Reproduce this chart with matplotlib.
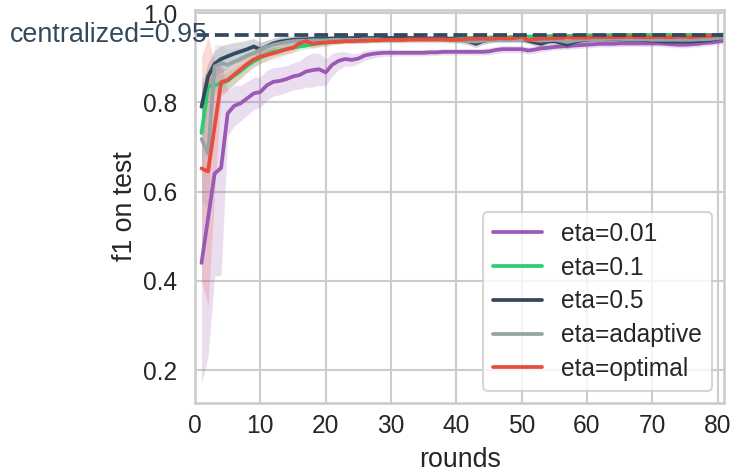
import matplotlib
matplotlib.use('Agg')
import matplotlib.pyplot as plt
import numpy as np
import seaborn as sns

sns.set_theme(context='talk', style='whitegrid', font_scale=1.07)
plt.rcParams['font.family'] = ['Liberation Sans', 'DejaVu Sans']
plt.rcParams['lines.linewidth'] = 2.7

rounds = np.arange(1, 82)
labels = ['eta=0.01', 'eta=0.1', 'eta=0.5', 'eta=adaptive', 'eta=optimal']
colors = ['#9b59b6', '#2ecc71', '#34495e', '#95a5a6', '#e74c3c']
centralized = 0.95

f1_001 = [0.440, 0.540, 0.640, 0.653, 0.775, 0.792, 0.798, 0.809, 0.820, 0.823,
          0.838, 0.846, 0.848, 0.852, 0.858, 0.861, 0.869, 0.872, 0.874, 0.867,
          0.884, 0.893, 0.897, 0.895, 0.898, 0.905, 0.908, 0.910, 0.911, 0.911,
          0.911, 0.911, 0.911, 0.911, 0.911, 0.912, 0.912, 0.913, 0.913, 0.913,
          0.913, 0.913, 0.913, 0.913, 0.914, 0.917, 0.919, 0.919, 0.919, 0.919,
          0.916, 0.918, 0.921, 0.922, 0.924, 0.925, 0.926, 0.927, 0.928, 0.929,
          0.930, 0.931, 0.931, 0.931, 0.932, 0.932, 0.932, 0.932, 0.932, 0.932,
          0.932, 0.931, 0.930, 0.929, 0.929, 0.930, 0.931, 0.933, 0.934, 0.936,
          0.938]
f1_01 = [0.731, 0.835, 0.838, 0.842, 0.848, 0.860, 0.870, 0.882, 0.892, 0.900,
         0.907, 0.913, 0.916, 0.919, 0.923, 0.925, 0.927, 0.930, 0.932, 0.934,
         0.935, 0.936, 0.937, 0.937, 0.938, 0.938, 0.939, 0.939, 0.940, 0.940,
         0.940, 0.941, 0.941, 0.942, 0.942, 0.942, 0.943, 0.943, 0.943, 0.944,
         0.944, 0.944, 0.945, 0.945, 0.945, 0.946, 0.946, 0.946, 0.947, 0.947,
         0.947, 0.948, 0.948, 0.948, 0.949, 0.949, 0.949, 0.949, 0.950, 0.950,
         0.950, 0.950, 0.950, 0.951, 0.951, 0.951, 0.951, 0.951, 0.951, 0.951,
         0.951, 0.951, 0.951, 0.951, 0.951, 0.951, 0.951, 0.951, 0.951, 0.951,
         0.952]
f1_05 = [0.790, 0.858, 0.886, 0.897, 0.903, 0.909, 0.914, 0.919, 0.925, 0.918,
         0.925, 0.932, 0.936, 0.938, 0.940, 0.941, 0.941, 0.942, 0.942, 0.942,
         0.943, 0.943, 0.943, 0.944, 0.944, 0.944, 0.944, 0.944, 0.944, 0.944,
         0.944, 0.944, 0.944, 0.944, 0.943, 0.943, 0.943, 0.943, 0.942, 0.941,
         0.940, 0.936, 0.931, 0.937, 0.940, 0.941, 0.941, 0.941, 0.941, 0.941,
         0.938, 0.934, 0.931, 0.936, 0.937, 0.933, 0.929, 0.935, 0.938, 0.940,
         0.941, 0.941, 0.941, 0.941, 0.941, 0.940, 0.940, 0.940, 0.939, 0.938,
         0.937, 0.936, 0.936, 0.936, 0.936, 0.936, 0.937, 0.938, 0.940, 0.943,
         0.945]
f1_adaptive = [0.718, 0.685, 0.880, 0.888, 0.884, 0.891, 0.897, 0.905, 0.910, 0.918,
               0.924, 0.929, 0.932, 0.935, 0.937, 0.938, 0.938, 0.939, 0.939, 0.939,
               0.940, 0.940, 0.940, 0.940, 0.940, 0.941, 0.941, 0.941, 0.940, 0.940,
               0.940, 0.940, 0.940, 0.940, 0.940, 0.940, 0.940, 0.940, 0.939, 0.939,
               0.938, 0.937, 0.936, 0.938, 0.939, 0.940, 0.940, 0.940, 0.941, 0.941,
               0.940, 0.939, 0.938, 0.939, 0.940, 0.938, 0.935, 0.938, 0.940, 0.941,
               0.941, 0.941, 0.942, 0.942, 0.942, 0.941, 0.941, 0.941, 0.941, 0.940,
               0.940, 0.940, 0.940, 0.940, 0.940, 0.940, 0.941, 0.941, 0.942, 0.944,
               0.945]
f1_optimal = [0.652, 0.645, 0.745, 0.845, 0.850, 0.862, 0.874, 0.886, 0.896, 0.902,
              0.906, 0.910, 0.914, 0.919, 0.922, 0.932, 0.937, 0.931, 0.933, 0.934,
              0.935, 0.936, 0.937, 0.937, 0.938, 0.938, 0.939, 0.939, 0.940, 0.940,
              0.940, 0.940, 0.941, 0.941, 0.941, 0.941, 0.941, 0.941, 0.940, 0.940,
              0.941, 0.942, 0.942, 0.943, 0.942, 0.943, 0.944, 0.943, 0.944, 0.947,
              0.939, 0.941, 0.943, 0.943, 0.944, 0.944, 0.945, 0.945, 0.945, 0.945,
              0.946, 0.946, 0.946, 0.946, 0.946, 0.947, 0.947, 0.946, 0.946, 0.946,
              0.947, 0.946, 0.946, 0.947, 0.947, 0.946, 0.947, 0.948, 0.949, 0.950,
              0.950]

# half widths of the shaded bands
ci_001 = [0.270, 0.310, 0.230, 0.240, 0.050, 0.045, 0.040, 0.038, 0.036, 0.034,
          0.033, 0.032, 0.031, 0.030, 0.030, 0.032, 0.035, 0.038, 0.036, 0.030,
          0.025, 0.020, 0.016, 0.014, 0.012, 0.011, 0.010, 0.009, 0.008, 0.008,
          0.007, 0.007, 0.007, 0.007, 0.007, 0.007, 0.007, 0.007, 0.007, 0.007,
          0.007, 0.007, 0.007, 0.007, 0.008, 0.008, 0.008, 0.008, 0.008, 0.008,
          0.008, 0.008, 0.008, 0.007, 0.007, 0.007, 0.007, 0.007, 0.007, 0.007,
          0.007, 0.007, 0.007, 0.007, 0.007, 0.007, 0.007, 0.007, 0.007, 0.007,
          0.007, 0.007, 0.007, 0.007, 0.007, 0.007, 0.007, 0.007, 0.007, 0.007,
          0.007]
ci_01 = [0.080, 0.030, 0.020, 0.020, 0.020, 0.018, 0.016, 0.015, 0.014, 0.013,
         0.012, 0.011, 0.010, 0.010, 0.009, 0.009, 0.008, 0.008, 0.007, 0.007,
         0.005, 0.005, 0.005, 0.005, 0.005, 0.005, 0.005, 0.005, 0.005, 0.005,
         0.005, 0.005, 0.005, 0.005, 0.005, 0.005, 0.005, 0.005, 0.005, 0.005,
         0.005, 0.005, 0.005, 0.005, 0.005, 0.005, 0.005, 0.005, 0.005, 0.005,
         0.005, 0.005, 0.005, 0.005, 0.005, 0.005, 0.005, 0.005, 0.005, 0.005,
         0.005, 0.005, 0.005, 0.005, 0.005, 0.005, 0.005, 0.005, 0.005, 0.005,
         0.005, 0.005, 0.005, 0.005, 0.005, 0.005, 0.005, 0.005, 0.005, 0.005,
         0.005]
ci_05 = [0.050, 0.030, 0.030, 0.030, 0.028, 0.025, 0.022, 0.020, 0.018, 0.016,
         0.014, 0.012, 0.011, 0.010, 0.009, 0.009, 0.008, 0.008, 0.007, 0.007,
         0.006, 0.006, 0.006, 0.006, 0.006, 0.006, 0.006, 0.006, 0.006, 0.006,
         0.006, 0.006, 0.006, 0.006, 0.006, 0.006, 0.006, 0.006, 0.006, 0.006,
         0.007, 0.008, 0.009, 0.008, 0.007, 0.006, 0.006, 0.006, 0.006, 0.006,
         0.007, 0.008, 0.009, 0.008, 0.008, 0.008, 0.009, 0.008, 0.007, 0.006,
         0.006, 0.006, 0.006, 0.006, 0.006, 0.006, 0.006, 0.006, 0.006, 0.006,
         0.006, 0.006, 0.006, 0.006, 0.006, 0.006, 0.006, 0.006, 0.006, 0.006,
         0.006]
ci_adaptive = [0.140, 0.120, 0.050, 0.040, 0.035, 0.030, 0.025, 0.020, 0.018, 0.016,
               0.015, 0.013, 0.012, 0.011, 0.010, 0.010, 0.009, 0.009, 0.008, 0.008,
               0.007, 0.007, 0.007, 0.007, 0.007, 0.007, 0.007, 0.007, 0.007, 0.007,
               0.007, 0.007, 0.007, 0.007, 0.007, 0.007, 0.007, 0.007, 0.007, 0.007,
               0.008, 0.009, 0.009, 0.008, 0.007, 0.007, 0.007, 0.007, 0.007, 0.007,
               0.007, 0.008, 0.008, 0.008, 0.008, 0.009, 0.010, 0.008, 0.007, 0.007,
               0.007, 0.007, 0.007, 0.007, 0.007, 0.007, 0.007, 0.007, 0.007, 0.007,
               0.007, 0.007, 0.007, 0.007, 0.007, 0.007, 0.007, 0.007, 0.007, 0.007,
               0.007]
ci_optimal = [0.250, 0.300, 0.150, 0.030, 0.025, 0.022, 0.020, 0.018, 0.016, 0.015,
              0.014, 0.013, 0.012, 0.012, 0.011, 0.010, 0.010, 0.010, 0.009, 0.009,
              0.006, 0.006, 0.006, 0.006, 0.006, 0.006, 0.006, 0.006, 0.006, 0.006,
              0.006, 0.006, 0.006, 0.006, 0.006, 0.006, 0.006, 0.006, 0.006, 0.006,
              0.006, 0.006, 0.006, 0.006, 0.006, 0.006, 0.006, 0.006, 0.006, 0.006,
              0.006, 0.006, 0.006, 0.006, 0.006, 0.006, 0.006, 0.006, 0.006, 0.006,
              0.006, 0.006, 0.006, 0.006, 0.006, 0.006, 0.006, 0.006, 0.006, 0.006,
              0.006, 0.006, 0.006, 0.006, 0.006, 0.006, 0.006, 0.006, 0.006, 0.006,
              0.006]

series = [f1_001, f1_01, f1_05, f1_adaptive, f1_optimal]
bands = [ci_001, ci_01, ci_05, ci_adaptive, ci_optimal]

fig, ax = plt.subplots(figsize=(7.33, 4.72), dpi=100)
fig.subplots_adjust(left=0.266, right=0.988, bottom=0.146, top=0.979)

for vals, ci, c, lab in zip(series, bands, colors, labels):
    vals = np.array(vals)
    ci = np.array(ci)
    ax.fill_between(rounds, vals - ci, vals + ci, color=c, alpha=0.2, linewidth=0)
    ax.plot(rounds, vals, color=c, label=lab)

ax.axhline(centralized, ls='--', color='#34495e')
ax.text(2.0, centralized, 'centralized=%.2f' % centralized, color='#34495e',
        ha='right', va='center', fontsize=19.4)

ax.set_xlim(0, 81)
ax.set_ylim(0.126, 1.007)
ax.set_xticks(range(0, 81, 10))
ax.set_yticks([0.2, 0.4, 0.6, 0.8, 1.0])
ax.tick_params(axis='x', length=0, pad=8)
ax.set_xlabel('rounds', labelpad=6)
ax.set_ylabel('f1 on test')
ax.legend(loc='lower right', labelspacing=0.4)

plt.savefig('out.png')
